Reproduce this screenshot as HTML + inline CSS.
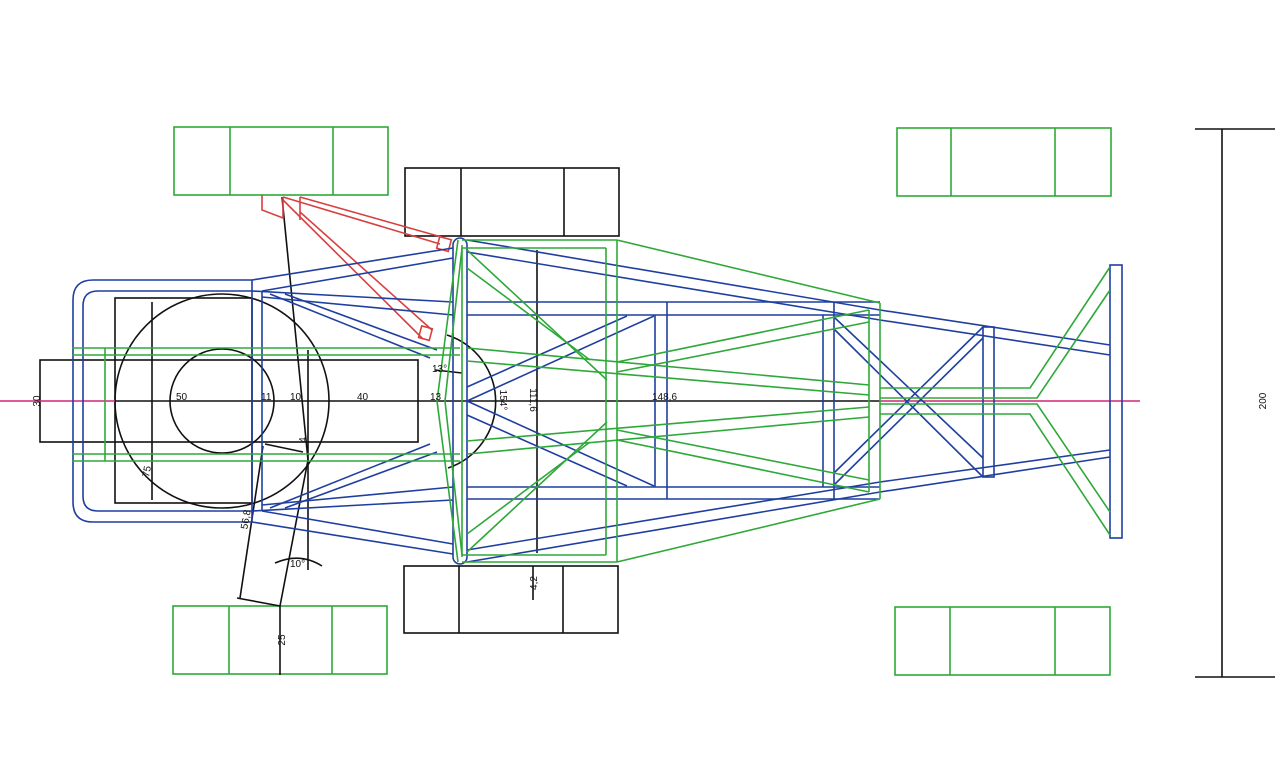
<!DOCTYPE html>
<html><head><meta charset="utf-8"><style>
html,body{margin:0;padding:0;background:#fff;}
svg{display:block}
text{font-family:"Liberation Sans",sans-serif;font-size:10px;fill:#111}
</style></head><body>
<svg width="1280" height="764" viewBox="0 0 1280 764" xmlns="http://www.w3.org/2000/svg">
<rect width="1280" height="764" fill="#fff"/>
<g fill="none" stroke-width="1.6">
<g stroke="#2fa83a">
<rect x="174" y="127" width="214" height="68"/><line x1="230" y1="127" x2="230" y2="195"/><line x1="333" y1="127" x2="333" y2="195"/>
<rect x="897" y="128" width="214" height="68"/><line x1="951" y1="128" x2="951" y2="196"/><line x1="1055" y1="128" x2="1055" y2="196"/>
<rect x="173" y="606" width="214" height="68"/><line x1="229" y1="606" x2="229" y2="674"/><line x1="332" y1="606" x2="332" y2="674"/>
<rect x="895" y="607" width="215" height="68"/><line x1="950" y1="607" x2="950" y2="675"/><line x1="1055" y1="607" x2="1055" y2="675"/>
</g>
<g stroke="#111">
<rect x="405" y="168" width="214" height="68"/><line x1="461" y1="168" x2="461" y2="236"/><line x1="564" y1="168" x2="564" y2="236"/>
<rect x="404" y="566" width="214" height="67"/><line x1="459" y1="566" x2="459" y2="633"/><line x1="563" y1="566" x2="563" y2="633"/>
<line x1="1195" y1="129" x2="1275" y2="129"/><line x1="1195" y1="677" x2="1275" y2="677"/><line x1="1222" y1="129" x2="1222" y2="677"/>
<rect x="115" y="298" width="137" height="205"/>
<rect x="40" y="360" width="378" height="82"/>
<circle cx="222" cy="401" r="107"/>
<circle cx="222" cy="401" r="52"/>
<line x1="152" y1="302" x2="152" y2="500"/>
<line x1="115" y1="401" x2="880" y2="401"/>
<line x1="537" y1="250" x2="537" y2="553"/>
<line x1="308" y1="350" x2="308" y2="570"/>
<line x1="282" y1="197" x2="308" y2="460"/>
<line x1="308" y1="460" x2="280" y2="606"/>
<line x1="263" y1="446" x2="240" y2="598"/>
<line x1="237" y1="598" x2="280" y2="606"/>
<line x1="265" y1="444" x2="303" y2="452"/>
<line x1="280" y1="606" x2="280" y2="675"/>
<line x1="533" y1="566" x2="533" y2="600"/>
<path d="M275 563 Q300 552 322 566"/>
<path d="M447 335 A70 70 0 0 1 448 468"/>
<line x1="435" y1="370" x2="462" y2="373"/>
</g>
<line x1="0" y1="401" x2="115" y2="401" stroke="#d0267a"/>
<line x1="880" y1="401" x2="1140" y2="401" stroke="#d0267a"/>
<g stroke="#d84040">
<polyline points="262,195 262,210 283,218 283,197"/>
<polyline points="300,197 300,220"/>
<line x1="283" y1="197" x2="440" y2="244"/><line x1="300" y1="197" x2="445" y2="238"/>
<line x1="283" y1="200" x2="422" y2="338"/><line x1="300" y1="212" x2="432" y2="330"/>
<rect x="438" y="238" width="12" height="12" transform="rotate(15 444 244)"/>
<rect x="420" y="327" width="11" height="12" transform="rotate(15 425 333)"/>
</g>
<g stroke="#1f3fa0">
<path d="M252 280 H93 Q73 280 73 300 V502 Q73 522 93 522 H252"/>
<path d="M252 291 H98 Q83 291 83 306 V496 Q83 511 98 511 H252"/>
<line x1="252" y1="280" x2="252" y2="522"/><line x1="262" y1="291" x2="262" y2="511"/>
<rect x="453" y="238" width="14" height="326" rx="7"/>
<line x1="252" y1="280" x2="453" y2="248"/><line x1="262" y1="291" x2="453" y2="258"/>
<line x1="252" y1="522" x2="453" y2="554"/><line x1="262" y1="511" x2="453" y2="544"/>
<line x1="252" y1="291" x2="453" y2="302"/><line x1="262" y1="297" x2="453" y2="315"/>
<line x1="252" y1="511" x2="453" y2="500"/><line x1="262" y1="505" x2="453" y2="487"/>
<line x1="270" y1="294" x2="430" y2="358"/><line x1="285" y1="294" x2="437" y2="350"/>
<line x1="270" y1="508" x2="430" y2="444"/><line x1="285" y1="508" x2="437" y2="452"/>
<line x1="467" y1="302" x2="880" y2="302"/><line x1="467" y1="315" x2="880" y2="315"/>
<line x1="467" y1="487" x2="880" y2="487"/><line x1="467" y1="499" x2="880" y2="499"/>
<line x1="667" y1="302" x2="667" y2="499"/><line x1="655" y1="315" x2="655" y2="487"/>
<line x1="834" y1="302" x2="834" y2="499"/><line x1="823" y1="315" x2="823" y2="487"/>
<line x1="467" y1="387" x2="627" y2="316"/><line x1="467" y1="401" x2="654" y2="316"/>
<line x1="467" y1="415" x2="627" y2="486"/><line x1="467" y1="401" x2="654" y2="486"/>
<line x1="467" y1="240" x2="880" y2="310"/><line x1="467" y1="252" x2="880" y2="320"/>
<line x1="467" y1="562" x2="880" y2="492"/><line x1="467" y1="550" x2="880" y2="482"/>
<line x1="880" y1="310" x2="1110" y2="345"/><line x1="880" y1="320" x2="1110" y2="355"/>
<line x1="880" y1="492" x2="1110" y2="457"/><line x1="880" y1="482" x2="1110" y2="450"/>
<rect x="983" y="327" width="11" height="150"/>
<line x1="835" y1="318" x2="983" y2="458"/><line x1="835" y1="330" x2="983" y2="477"/>
<line x1="835" y1="484" x2="983" y2="338"/><line x1="835" y1="472" x2="983" y2="327"/>
<rect x="1110" y="265" width="12" height="273"/>
</g>
<g stroke="#2fa83a">
<line x1="72" y1="348" x2="460" y2="348"/><line x1="72" y1="355" x2="460" y2="355"/>
<line x1="72" y1="454" x2="460" y2="454"/><line x1="72" y1="461" x2="460" y2="461"/>
<line x1="105" y1="348" x2="105" y2="461"/>
<polyline points="458,240 437,401 458,562"/><polyline points="462,248 445,401 462,555"/>
<line x1="462" y1="245" x2="462" y2="557"/>
<line x1="462" y1="240" x2="617" y2="240"/><line x1="462" y1="248" x2="606" y2="248"/>
<line x1="462" y1="562" x2="617" y2="562"/><line x1="462" y1="555" x2="606" y2="555"/>
<line x1="606" y1="248" x2="606" y2="555"/><line x1="617" y1="240" x2="617" y2="562"/>
<line x1="617" y1="240" x2="880" y2="303"/><line x1="617" y1="562" x2="880" y2="499"/>
<line x1="880" y1="303" x2="880" y2="499"/><line x1="869" y1="310" x2="869" y2="492"/>
<line x1="467" y1="250" x2="607" y2="380"/><line x1="467" y1="268" x2="590" y2="360"/>
<line x1="467" y1="552" x2="607" y2="422"/><line x1="467" y1="534" x2="590" y2="442"/>
<line x1="617" y1="362" x2="869" y2="310"/><line x1="617" y1="372" x2="869" y2="322"/>
<line x1="617" y1="440" x2="869" y2="492"/><line x1="617" y1="430" x2="869" y2="480"/>
<line x1="467" y1="348" x2="869" y2="385"/><line x1="467" y1="361" x2="869" y2="395"/>
<line x1="467" y1="454" x2="869" y2="417"/><line x1="467" y1="441" x2="869" y2="407"/>
<polyline points="880,388 1030,388 1110,267"/><polyline points="880,398 1037,398 1110,290"/>
<polyline points="880,414 1030,414 1110,535"/><polyline points="880,404 1037,404 1110,512"/>
</g>
</g>
<text x="176" y="400">50</text><text x="261" y="400">11</text><text x="290" y="400">10</text>
<text x="357" y="400">40</text><text x="430" y="400">13</text>
<text x="432" y="372">13°</text><text x="652" y="400">148,6</text>
<text x="290" y="567">10°</text>
<text transform="translate(40,401) rotate(-90)" text-anchor="middle">30</text>
<text transform="translate(150,472) rotate(-80)" text-anchor="middle">75</text>
<text transform="translate(249,520) rotate(-80)" text-anchor="middle">56,8</text>
<text transform="translate(306,440) rotate(-90)" text-anchor="middle">4</text>
<text transform="translate(285,640) rotate(-90)" text-anchor="middle">25</text>
<text transform="translate(537,583) rotate(-90)" text-anchor="middle">4,2</text>
<text transform="translate(530,400) rotate(90)" text-anchor="middle">111,6</text>
<text transform="translate(500,400) rotate(90)" text-anchor="middle">154°</text>
<text transform="translate(1266,401) rotate(-90)" text-anchor="middle">200</text>
</svg>
</body></html>
